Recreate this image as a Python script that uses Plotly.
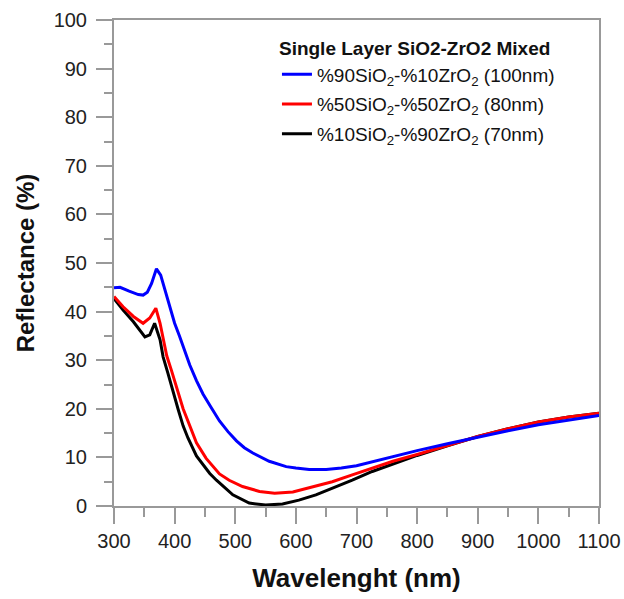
import plotly.graph_objects as go

# Reflectance spectra of single-layer SiO2-ZrO2 mixed coatings
wl_a = [300, 310, 325, 340, 348, 355, 362, 370, 377, 384, 392, 400, 408, 418, 425, 436,
        447, 460, 474, 488, 502, 515, 529, 556, 584, 600, 622, 650, 675, 700, 725, 750,
        775, 800, 850, 900, 950, 1000, 1050, 1100]
r_a = [44.9, 45.0, 44.2, 43.5, 43.4, 44.0, 45.8, 48.8, 47.5, 44.6, 40.8, 37.6, 35.0, 31.5, 29.0, 25.8,
       23.0, 20.3, 17.5, 15.3, 13.4, 12.0, 10.9, 9.2, 8.1, 7.8, 7.5, 7.5, 7.8, 8.3, 9.1, 9.9,
       10.7, 11.4, 12.8, 14.2, 15.5, 16.7, 17.7, 18.6]

wl_b = [300, 315, 332, 348, 359, 369, 376, 381, 387, 395, 403, 414, 425, 436, 452, 474,
        490, 512, 540, 565, 595, 627, 660, 693, 725, 760, 800, 850, 900, 950, 1000, 1050, 1100]
r_b = [43.1, 41.0, 39.0, 37.6, 38.7, 40.7, 37.6, 34.2, 30.9, 27.8, 24.5, 20.0, 16.5, 13.0, 9.8, 6.6,
       5.3, 4.0, 3.0, 2.6, 2.9, 4.0, 5.0, 6.4, 7.8, 9.2, 10.6, 12.5, 14.3, 15.9, 17.3, 18.3, 19.1]

wl_c = [300, 315, 332, 351, 359, 367, 376, 381, 389, 397, 406, 414, 422, 436, 447, 458,
        469, 496, 523, 550, 578, 605, 633, 660, 693, 726, 760, 800, 850, 900, 950, 1000, 1050, 1100]
r_c = [42.7, 40.3, 37.9, 34.8, 35.2, 37.6, 34.2, 30.7, 27.3, 23.6, 19.8, 16.5, 14.0, 10.3, 8.5, 6.7,
       5.3, 2.3, 0.6, 0.2, 0.4, 1.2, 2.3, 3.6, 5.3, 7.1, 8.6, 10.4, 12.4, 14.3, 15.9, 17.3, 18.3, 19.1]

names = [
    "%90SiO<sub>2</sub>-%10ZrO<sub>2</sub> (100nm)",
    "%50SiO<sub>2</sub>-%50ZrO<sub>2</sub> (80nm)",
    "%10SiO<sub>2</sub>-%90ZrO<sub>2</sub> (70nm)",
]
colors = ["#0000ff", "#ff0000", "#000000"]

x_ticks = [300, 400, 500, 600, 700, 800, 900, 1000, 1100]
y_ticks = [0, 10, 20, 30, 40, 50, 60, 70, 80, 90, 100]

series = [(wl_a, r_a), (wl_b, r_b), (wl_c, r_c)]

fig = go.Figure()
# black first so the blue curve sits on top; legendrank keeps blue first in the legend
for i in [2, 1, 0]:
    x, y = series[i]
    fig.add_trace(go.Scatter(
        x=x, y=y, mode="lines", name=names[i],
        line=dict(color=colors[i], width=3),
        legendgroup=f"g{i}", legendrank=i + 1,
    ))

font = "Liberation Sans, Arial, sans-serif"
axis_common = dict(
    showline=True, linecolor="#999999", linewidth=2, mirror=True,
    showgrid=False, zeroline=False, automargin=False,
    ticks="outside", ticklen=16, tickwidth=1.5, tickcolor="#999999",
    tickfont=dict(family=font, size=20, color="#222222"),
)

fig.update_xaxes(
    range=[300, 1100], tickvals=x_ticks,
    minor=dict(ticks="outside", ticklen=9, tickwidth=1.5, tickcolor="#999999", dtick=50),
    title=dict(text="<b>Wavelenght (nm)</b>", font=dict(family=font, size=26, color="#111111"),
               standoff=18),
    **axis_common,
)
fig.update_yaxes(
    range=[0, 100], tickvals=y_ticks, ticklabelstandoff=5,
    minor=dict(ticks="outside", ticklen=8, tickwidth=1.5, tickcolor="#999999", dtick=5),
    title=dict(text="<b>Reflectance (%)</b>", font=dict(family=font, size=24, color="#111111"),
               standoff=12),
    **axis_common,
)

fig.update_layout(
    width=624, height=599, autosize=False,
    margin=dict(l=114, r=25, t=20, b=93),
    paper_bgcolor="white", plot_bgcolor="white",
    showlegend=True,
    legend=dict(
        x=0.336, y=0.978, xanchor="left", yanchor="top",
        traceorder="grouped", tracegroupgap=2,
        bgcolor="rgba(0,0,0,0)",
        font=dict(family=font, size=19, color="#111111"),
        title=dict(text="<b>Single Layer SiO2-ZrO2 Mixed</b>", side="top",
                   font=dict(family=font, size=19, color="#111111")),
    ),
)

fig.write_html("out.html")
